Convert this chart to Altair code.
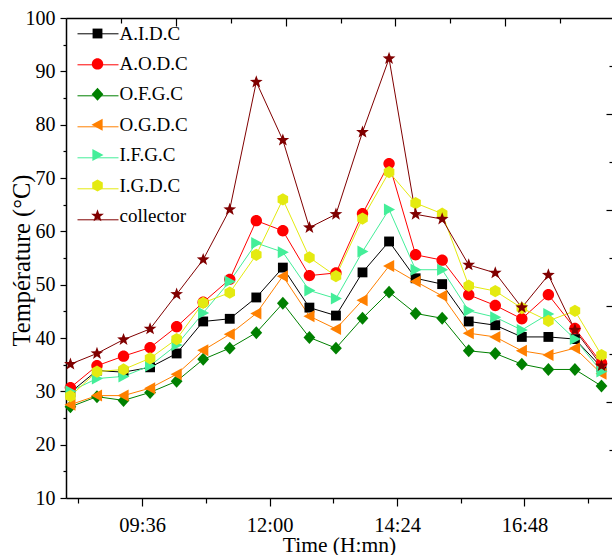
import math
import altair as alt
import pandas as pd

# ---------------- data ----------------
times = ["08:15", "08:45", "09:15", "09:45", "10:15", "10:45", "11:15", "11:45",
         "12:15", "12:45", "13:15", "13:45", "14:15", "14:45", "15:15", "15:45",
         "16:15", "16:45", "17:15", "17:45", "18:15"]

series_names = ["A.I.D.C", "A.O.D.C", "O.F.G.C", "O.G.D.C", "I.F.G.C", "I.G.D.C", "collector"]

aidc = [29.8, 33.9, 33.6, 34.5, 37.1, 43.1, 43.6, 47.6, 53.2, 45.7, 44.2,
        52.3, 58.1, 51.2, 50.1, 43.1, 42.4, 40.2, 40.2, 39.8, 34.5]
aodc = [30.7, 34.8, 36.6, 38.2, 42.1, 46.7, 51.0, 62.0, 60.1, 51.7, 52.2,
        63.3, 72.7, 55.6, 54.6, 48.1, 46.1, 43.6, 48.1, 41.8, 35.3]
ofgc = [27.1, 29.0, 28.3, 29.8, 31.9, 36.0, 38.1, 41.0, 46.5, 40.1, 38.1,
        43.7, 48.6, 44.6, 43.7, 37.6, 37.1, 35.1, 34.1, 34.1, 31.0]
ogdc = [27.5, 29.2, 29.2, 30.6, 33.2, 37.7, 40.7, 44.6, 51.6, 44.1, 41.7,
        47.1, 53.5, 50.6, 47.9, 40.9, 40.2, 37.6, 36.8, 38.1, 33.3]
ifgc = [30.0, 32.4, 32.8, 34.8, 38.7, 44.7, 50.6, 57.8, 56.1, 48.9, 47.4,
        56.2, 64.1, 52.8, 52.8, 45.1, 43.9, 41.5, 44.5, 39.8, 33.7]
igdc = [29.1, 33.7, 34.1, 36.2, 39.8, 46.6, 48.5, 55.6, 66.0, 55.1, 51.6,
        62.4, 71.1, 65.3, 63.3, 49.8, 48.8, 45.6, 43.2, 45.1, 36.8]
collector = [35.1, 37.1, 39.7, 41.7, 48.2, 54.7, 64.1, 88.0, 77.1, 60.7, 63.2,
             78.6, 92.4, 63.2, 62.3, 53.7, 52.2, 45.7, 51.8, 41.5, 34.8]

all_values = [aidc, aodc, ofgc, ogdc, ifgc, igdc, collector]

x_major_ticks = ["09:36", "12:00", "14:24", "16:48"]
x_minor_ticks = ["08:24", "10:48", "13:12", "15:36", "18:00"]
y_major_ticks = [10, 20, 30, 40, 50, 60, 70, 80, 90, 100]
y_minor_ticks = [15, 25, 35, 45, 55, 65, 75, 85, 95]

# ---------------- styles ----------------
colors = ["#000000", "#ff0000", "#008000", "#ff8000", "#44ee99", "#e4ea10", "#800000"]


def to_min(s):
    h, m = s.split(":")
    return int(h) * 60 + int(m)


def star_path(R=1.12, r=0.46):
    pts = []
    for k in range(10):
        ang = -math.pi / 2 + k * math.pi / 5
        rad = R if k % 2 == 0 else r
        pts.append((rad * math.cos(ang), rad * math.sin(ang)))
    return "M" + "L".join(f"{x:.3f},{y:.3f}" for x, y in pts) + "Z"


marker_paths = [
    "M-0.82,-0.82L0.82,-0.82L0.82,0.82L-0.82,0.82Z",
    "M0.95,0A0.95,0.95,0,1,1,-0.95,0A0.95,0.95,0,1,1,0.95,0Z",
    "M0,-1.08L0.98,0L0,1.08L-0.98,0Z",
    "M-1,0L0.85,-1L0.85,1Z",
    "M1,0L-0.85,-1L-0.85,1Z",
    "M0,-1.02L0.88,-0.51L0.88,0.51L0,1.02L-0.88,0.51L-0.88,-0.51Z",
    star_path(),
]

rows = []
for sname, vals in zip(series_names, all_values):
    for t, v in zip(times, vals):
        rows.append({"series": sname, "time": t, "minutes": to_min(t), "temp": v})
df = pd.DataFrame(rows)

FONT = "Liberation Serif"
PX_PER_MIN = 0.8851
W, H = 546, 480
X_DOM = [490, 490 + W / PX_PER_MIN]
Y_DOM = [10, 100]
TOP_DOM = [0, W / 54.9]
RIGHT_DOM = [0, 5]

x_scale = alt.Scale(domain=X_DOM, nice=False, zero=False)
y_scale = alt.Scale(domain=Y_DOM, nice=False, zero=False)

label_expr_time = ("(floor(datum.value/60) < 10 ? '0' : '') + floor(datum.value/60) + ':' + "
                   "(datum.value % 60 < 10 ? '0' : '') + (datum.value % 60)")

base = alt.Chart(df)
empty = alt.Chart(df).transform_filter("false")

# legend geometry
LEG_X, LEG_Y, ROW_PAD, LEG_FS = 22, 6, 10.4, 19
MARK_SYM = 144          # marker legend symbol size (12 px)
LINE_SYM = 41 * 41      # line legend symbol size (41 px long)
legend_expr = ("indexof(['O.F.G.C','O.G.D.C'], datum.label) >= 0 ? '\u00a0' + datum.label : datum.label")

line_legend = alt.Legend(orient="none", legendX=11, legendY=-5.2, title=None,
                         labelFont=FONT, labelFontSize=LEG_FS, labelOpacity=0,
                         labelExpr="' '",
                         symbolType="stroke", symbolSize=LINE_SYM, symbolStrokeWidth=1,
                         rowPadding=-1.0, padding=0)
marker_legend = alt.Legend(orient="none", legendX=LEG_X, legendY=LEG_Y, title=None,
                           labelFont=FONT, labelFontSize=LEG_FS, labelColor="black",
                           symbolSize=MARK_SYM, symbolStrokeWidth=0, symbolOpacity=1,
                           labelOffset=12.5, rowPadding=ROW_PAD, padding=0,
                           labelExpr=legend_expr)

lines = base.mark_line(strokeWidth=1).encode(
    x=alt.X("minutes:Q", scale=x_scale,
            axis=alt.Axis(orient="bottom", values=[to_min(t) for t in x_major_ticks],
                          labelExpr=label_expr_time, tickSize=8, labelPadding=25,
                          labelBaseline="alphabetic", labelFontSize=20.5, grid=False,
                          domain=True, domainWidth=1.5, tickWidth=1.2,
                          title="Time (H:mn)", titleFontSize=21.5, titleX=W / 2, titleY=53,
                          titleBaseline="alphabetic")),
    y=alt.Y("temp:Q", scale=y_scale,
            axis=alt.Axis(orient="left", values=y_major_ticks, tickSize=6, labelPadding=5,
                          labelFontSize=20, grid=False, domain=True, domainWidth=1.5,
                          tickWidth=1.2, title="Température (°C)", titleFontSize=24.5,
                          titleX=-37, titleY=H / 2 + 2, titleBaseline="alphabetic")),
    color=alt.Color("series:N", scale=alt.Scale(domain=series_names, range=colors),
                    legend=line_legend),
)

points = base.mark_point(filled=True, size=144, opacity=1).encode(
    x=alt.X("minutes:Q", scale=x_scale, axis=None),
    y=alt.Y("temp:Q", scale=y_scale, axis=None),
    fill=alt.Fill("series:N", scale=alt.Scale(domain=series_names, range=colors),
                  legend=marker_legend),
    shape=alt.Shape("series:N", scale=alt.Scale(domain=series_names, range=marker_paths),
                    legend=marker_legend),
)

minor = empty.mark_point(opacity=0).encode(
    x=alt.X("minutes:Q", scale=x_scale,
            axis=alt.Axis(orient="bottom", values=[to_min(t) for t in x_minor_ticks], labels=False,
                          domain=False, tickSize=5, tickWidth=1.2, title=None, grid=False)),
    y=alt.Y("temp:Q", scale=y_scale,
            axis=alt.Axis(orient="left", values=y_minor_ticks, labels=False, domain=False,
                          tickSize=3, tickWidth=1.2, title=None, grid=False)),
)

top_right_major = empty.mark_point(opacity=0).encode(
    x=alt.X("minutes:Q", scale=alt.Scale(domain=TOP_DOM, nice=False, zero=False),
            axis=alt.Axis(orient="top", values=[2, 4, 6, 8], labels=False, domain=False,
                          tickSize=8, offset=-8, tickWidth=1.2, title=None, grid=False)),
    y=alt.Y("temp:Q", scale=alt.Scale(domain=RIGHT_DOM, nice=False, zero=False),
            axis=alt.Axis(orient="right", values=[1, 2, 3, 4], labels=False, domain=False,
                          tickSize=6, offset=-6, tickWidth=1.2, title=None, grid=False)),
)

top_right_minor = empty.mark_point(opacity=0).encode(
    x=alt.X("minutes:Q", scale=alt.Scale(domain=TOP_DOM, nice=False, zero=False),
            axis=alt.Axis(orient="top", values=[1, 3, 5, 7, 9], labels=False, domain=False,
                          tickSize=5, offset=-5, tickWidth=1.2, title=None, grid=False)),
    y=alt.Y("temp:Q", scale=alt.Scale(domain=RIGHT_DOM, nice=False, zero=False),
            axis=alt.Axis(orient="right", values=[0.5, 1.5, 2.5, 3.5, 4.5], labels=False,
                          domain=False, tickSize=3, offset=-3, tickWidth=1.2, title=None,
                          grid=False)),
)

top_domain = empty.mark_point(opacity=0).encode(
    x=alt.X("minutes:Q", scale=alt.Scale(domain=TOP_DOM, nice=False, zero=False),
            axis=alt.Axis(orient="top", values=[], labels=False, ticks=False, domain=True,
                          domainWidth=1.5, title=None, grid=False)),
    y=alt.Y("temp:Q", scale=y_scale, axis=None),
)

chart = alt.layer(
    lines, points, minor, top_right_major, top_right_minor, top_domain
).resolve_scale(
    x="independent", y="independent", color="independent", fill="independent",
    shape="independent"
).resolve_legend(
    color="independent", fill="independent", shape="independent"
).properties(
    width=W, height=H,
    autosize=alt.AutoSizeParams(type="none"),
    padding={"left": 66, "top": 18, "right": 0, "bottom": 57},
    background="white",
).configure_view(
    stroke=None
).configure_axis(
    labelFont=FONT, titleFont=FONT, labelColor="black", titleColor="black",
    tickColor="black", domainColor="black", titleFontWeight="normal",
)

chart.save("out.html", embed_options={"renderer": "svg", "actions": False})
